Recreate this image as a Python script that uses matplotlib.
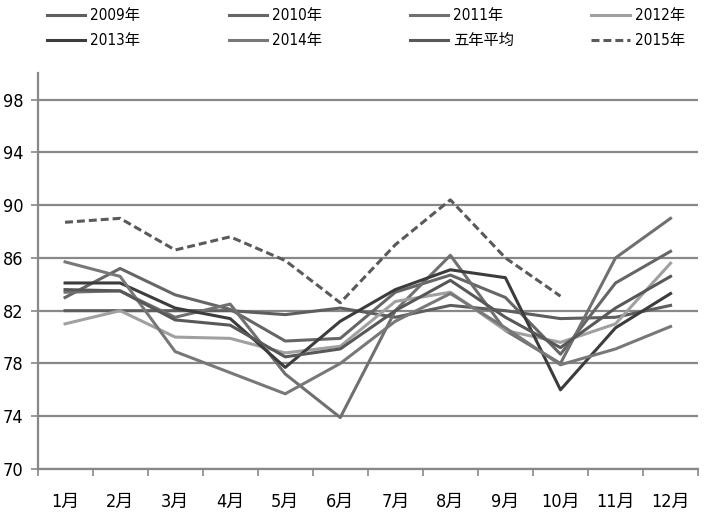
import numpy as np
import matplotlib
matplotlib.use('Agg')
from matplotlib import pyplot as plt
from matplotlib import font_manager as fm
from matplotlib.legend import Legend

# pick a narrow latin font if one is installed, CJK glyphs fall back to Noto
narrow = None
for f in fm.fontManager.ttflist:
    if f.style != 'normal' or f.weight not in (400, 'normal', 'regular'):
        continue
    if 'Narrow' in f.name or 'Condensed' in f.name or f.stretch in ('condensed', 'semi-condensed', 'extra-condensed'):
        narrow = f
        break
if narrow is not None:
    plt.rcParams['font.family'] = [narrow.name, 'Noto Sans CJK SC', 'DejaVu Sans']
    plt.rcParams['font.stretch'] = narrow.stretch
else:
    plt.rcParams['font.family'] = ['Liberation Sans', 'Noto Sans CJK SC', 'DejaVu Sans']

# data
months = ['1月', '2月', '3月', '4月', '5月', '6月', '7月', '8月', '9月', '10月', '11月', '12月']
y2009 = [82.0, 82.0, 82.0, 82.0, 81.7, 82.2, 81.5, 82.4, 82.0, 81.4, 81.5, 82.4]
y2010 = [83.0, 85.2, 83.2, 82.1, 79.7, 79.9, 83.4, 84.7, 83.0, 78.7, 84.1, 86.5]
y2011 = [83.4, 83.5, 81.5, 82.5, 77.2, 73.9, 82.0, 86.2, 80.5, 78.0, 86.0, 89.0]
y2012 = [81.0, 82.0, 80.0, 79.9, 78.8, 79.3, 82.7, 83.4, 80.5, 79.6, 81.0, 85.6]
y2013 = [84.1, 84.1, 82.2, 81.4, 77.7, 81.2, 83.6, 85.1, 84.5, 76.0, 80.7, 83.3]
y2014 = [85.7, 84.6, 78.9, 77.3, 75.7, 78.0, 81.2, 83.3, 80.7, 77.9, 79.1, 80.8]
avg5 = [83.6, 83.5, 81.3, 80.9, 78.5, 79.1, 82.0, 84.3, 81.5, 79.2, 82.2, 84.6]
y2015 = [88.7, 89.0, 86.6, 87.6, 85.8, 82.6, 87.0, 90.4, 86.0, 83.1]

yticks = [70, 74, 78, 82, 86, 90, 94, 98]

fig = plt.figure(figsize=(7.08, 5.12), dpi=100)
ax = fig.add_axes([0.053, 0.084, 0.933, 0.773])

x = np.arange(len(months))
lw = 2.2
l09, = ax.plot(x, y2009, color='#5e5e5e', lw=lw, label='2009年')
l10, = ax.plot(x, y2010, color='#666666', lw=lw, label='2010年')
l11, = ax.plot(x, y2011, color='#707070', lw=lw, label='2011年')
l12, = ax.plot(x, y2012, color='#a0a0a0', lw=lw, label='2012年')
l13, = ax.plot(x, y2013, color='#3c3c3c', lw=lw, label='2013年')
l14, = ax.plot(x, y2014, color='#787878', lw=lw, label='2014年')
lav, = ax.plot(x, avg5, color='#585858', lw=lw, label='五年平均')
l15, = ax.plot(x[:len(y2015)], y2015, color='#5a5a5a', lw=lw, ls=(0, (2.6, 1.3)), label='2015年')

ax.set_ylim(70, 100)
ax.set_xlim(-0.5, len(months) - 0.5)
ax.set_yticks(yticks)
ax.yaxis.grid(True, color='#888888', lw=1.6)
ax.set_axisbelow(True)

ax.set_xticks(x)
ax.set_xticklabels(months)
ax.set_xticks(np.arange(len(months) + 1) - 0.5, minor=True)
ax.tick_params(axis='x', which='major', length=0, pad=17, labelsize=13)
ax.tick_params(axis='x', which='minor', length=5, color='#888888', width=1.2)
ax.tick_params(axis='y', length=5, color='#888888', width=1.2, labelsize=13, pad=5)

for s in ['top', 'right']:
    ax.spines[s].set_visible(False)
for s in ['left', 'bottom']:
    ax.spines[s].set_color('#888888')
    ax.spines[s].set_linewidth(1.6)

# legend: four equal columns, two rows
cols = [(l09, l13), (l10, l14), (l11, lav), (l12, l15)]
for i, hs in enumerate(cols):
    lg = Legend(ax, list(hs), [h.get_label() for h in hs], loc='upper left',
                bbox_to_anchor=(0.0147 + i * 0.2746, 1.164),
                frameon=False, fontsize=11, handlelength=2.5,
                handletextpad=0.33, labelspacing=0.66,
                borderaxespad=0, borderpad=0)
    ax.add_artist(lg)

fig.savefig('out.png', dpi=100)
